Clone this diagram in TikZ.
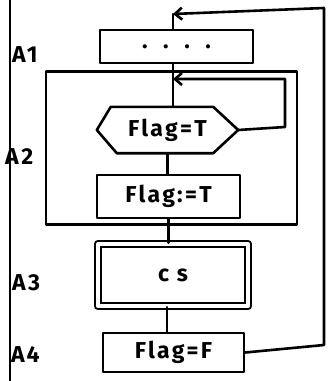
\documentclass[tikz,border=0pt]{standalone}
\usepackage{fontspec}
\setmainfont{Fira Sans}[LetterSpace=10]
\usetikzlibrary{arrows.meta}
\tikzset{
  pen/.style={line width=2.6pt, line cap=round, line join=round},
  hand/.style={font=\fontsize{23}{26}\selectfont\bfseries},
  stepbox/.style={pen, draw, rectangle, inner sep=0pt, hand},
  ghost/.style={rectangle, inner sep=0pt, hand},
  lab/.style={anchor=west, inner sep=0pt, font=\fontsize{23}{26}\selectfont\bfseries},
  loopin/.style={pen, -{Straight Barb[length=7pt,width=12pt,line width=2.6pt]}},
}
\begin{document}
\begin{tikzpicture}[x=1pt,y=-1pt]
  \useasboundingbox (0,0) rectangle (333,381);
  % page margin line
  \draw[line width=1.6pt] (10,0) -- (10,381);

  % labels of the four parts
  \node[lab] (l1) at (12,55) {A1};
  \node[lab] (l2) at (5,157) {A2};
  \node[lab] (l3) at (12,283) {A3};
  \node[lab] (l4) at (11,355) {A4};

  % A1
  \node[stepbox, minimum width=153, minimum height=33] (a1) at (176.5,46.5) {.\ \ .\ \ .\ \ .};

  % A2: frame with the waiting loop
  \node[pen, draw, rectangle, minimum width=251, minimum height=153] (frame) at (171.5,148) {};
  \node[ghost, minimum width=141, minimum height=46] (hex) at (167.5,130) {Flag=T};
  \draw[pen] (hex.west) -- ([xshift=14]hex.north west) -- ([xshift=-25]hex.north east)
    -- (hex.east) -- ([xshift=-25]hex.south east) -- ([xshift=20]hex.south west) -- cycle;
  \node[stepbox, minimum width=143, minimum height=43] (set) at (168.5,196.5) {Flag:=T};

  % A3: critical section
  \node[stepbox, line width=2.4pt, double, double distance=4pt, minimum width=150, minimum height=62] (cs) at (173,275) {c s};

  % A4
  \node[stepbox, minimum width=141, minimum height=39] (f) at (173.5,352.5) {Flag=F};

  % flow
  \coordinate (top) at (173,14);
  \coordinate (inner) at (173,79);
  \draw[pen] (top) -- (top |- a1.north);
  \draw[pen] (a1.south -| top) -- (hex.north -| top);
  \draw[pen] (hex.south) -- (set.north -| hex.south);
  \draw[pen] (set.south) -- (cs.north -| set.south);
  \draw[pen] (cs.south -| 167,0) -- (f.north -| 167,0);

  % waiting loop back to the test
  \draw[loopin] (hex.east) -- (285,127) -- (285,79) -- (inner);
  % outer loop back to A1
  \draw[loopin] (f.east) -- (324,345) -- (324,8) -- (top);
\end{tikzpicture}
\end{document}
